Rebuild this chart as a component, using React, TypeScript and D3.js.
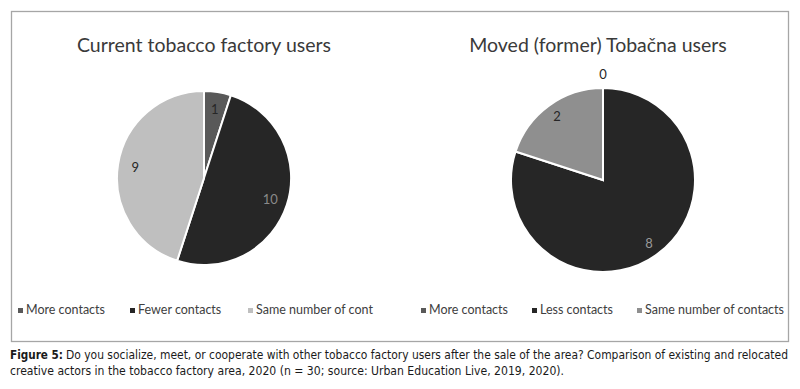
import React from "react";
import * as d3 from "d3";

const leftTitle = "Current tobacco factory users";
const rightTitle = "Moved (former) Tobačna users";
const leftCategories = ["More contacts", "Fewer contacts", "Same number of cont"];
const rightCategories = ["More contacts", "Less contacts", "Same number of contacts"];
const leftValues = [1, 10, 9];
const rightValues = [0, 8, 2];
const leftColors = ["#595959", "#262626", "#bfbfbf"];
const rightColors = ["#595959", "#262626", "#8f8f8f"];
const leftLabelColors = ["#262626", "#8a8a8a", "#262626"];
const rightLabelColors = ["#262626", "#9a9a9a", "#262626"];
const captionBold = "Figure 5:";
const captionLine1 = "Do you socialize, meet, or cooperate with other tobacco factory users after the sale of the area? Comparison of existing and relocated";
const captionLine2 = "creative actors in the tobacco factory area, 2020 (n = 30; source: Urban Education Live, 2019, 2020).";

const chartFont = "Lato, 'Open Sans', sans-serif";
const captionFont = "'DejaVu Sans Condensed', 'Liberation Sans Narrow', sans-serif";

type PieProps = {
  cx: number; cy: number; r: number;
  values: number[]; colors: string[]; labelColors: string[];
  labelFactor: number[];
};

function Pie({ cx, cy, r, values, colors, labelColors, labelFactor }: PieProps) {
  const pie = d3.pie<number>().sort(null).value((d) => d)(values);
  const arc = d3.arc<d3.PieArcDatum<number>>().innerRadius(0).outerRadius(r);
  return (
    <g transform={`translate(${cx},${cy})`}>
      {pie.map((p, i) => (
        <path key={i} d={arc(p) || ""} fill={colors[i]} stroke="#fff" strokeWidth={2} />
      ))}
      {pie.map((p, i) => {
        const a = (p.startAngle + p.endAngle) / 2;
        const rr = r * labelFactor[i];
        const x = Math.sin(a) * rr;
        const y = -Math.cos(a) * rr;
        return (
          <text key={"l" + i} x={x} y={y} dy="0.35em" textAnchor="middle"
            fontFamily={chartFont} fontSize={13} fill={labelColors[i]}>
            {values[i]}
          </text>
        );
      })}
    </g>
  );
}

function Legend({ x, y, items, colors, offsets }: { x: number; y: number; items: string[]; colors: string[]; offsets: number[] }) {
  return (
    <g>
      {items.map((t, i) => (
        <g key={i} transform={`translate(${x + offsets[i]},${y})`}>
          <rect x={0} y={-6} width={5} height={5} fill={colors[i]} />
          <text x={8} y={0} fontFamily={chartFont} fontSize={12.5} fill="#404040">{t}</text>
        </g>
      ))}
    </g>
  );
}

export default function App() {
  return (
    <svg width={800} height={389} style={{ position: "absolute", left: 0, top: 0, background: "#fff" }}>
      <rect x={0} y={0} width={800} height={389} fill="#fff" />
      <rect x={11.5} y={11.5} width={777} height={330} fill="#fff" stroke="#a6a6a6" strokeWidth={1.3} />
      <text x={204} y={52} textAnchor="middle" fontFamily={chartFont} fontSize={19.5} fill="#3a3a3a">{leftTitle}</text>
      <text x={598} y={52} textAnchor="middle" fontFamily={chartFont} fontSize={19.5} fill="#3a3a3a">{rightTitle}</text>
      <Pie cx={204} cy={178} r={87} values={leftValues} colors={leftColors} labelColors={leftLabelColors} labelFactor={[0.8, 0.8, 0.8]} />
      <Pie cx={603} cy={180} r={92} values={rightValues} colors={rightColors} labelColors={rightLabelColors} labelFactor={[1.15, 0.85, 0.85]} />
      <Legend x={18} y={314} items={leftCategories} colors={leftColors} offsets={[0, 112, 230]} />
      <Legend x={421} y={314} items={rightCategories} colors={rightColors} offsets={[0, 111, 216]} />
      <text x={10} y={359} fontFamily={captionFont} fontSize={12.2} fontWeight="bold" fill="#1a1a1a"
        textLength={53} lengthAdjust="spacingAndGlyphs">{captionBold}</text>
      <text x={66} y={359} fontFamily={captionFont} fontSize={11.8} fill="#1a1a1a"
        textLength={722} lengthAdjust="spacingAndGlyphs">{captionLine1}</text>
      <text x={10} y={375} fontFamily={captionFont} fontSize={12.2} fill="#1a1a1a"
        textLength={554} lengthAdjust="spacingAndGlyphs">{captionLine2}</text>
    </svg>
  );
}
